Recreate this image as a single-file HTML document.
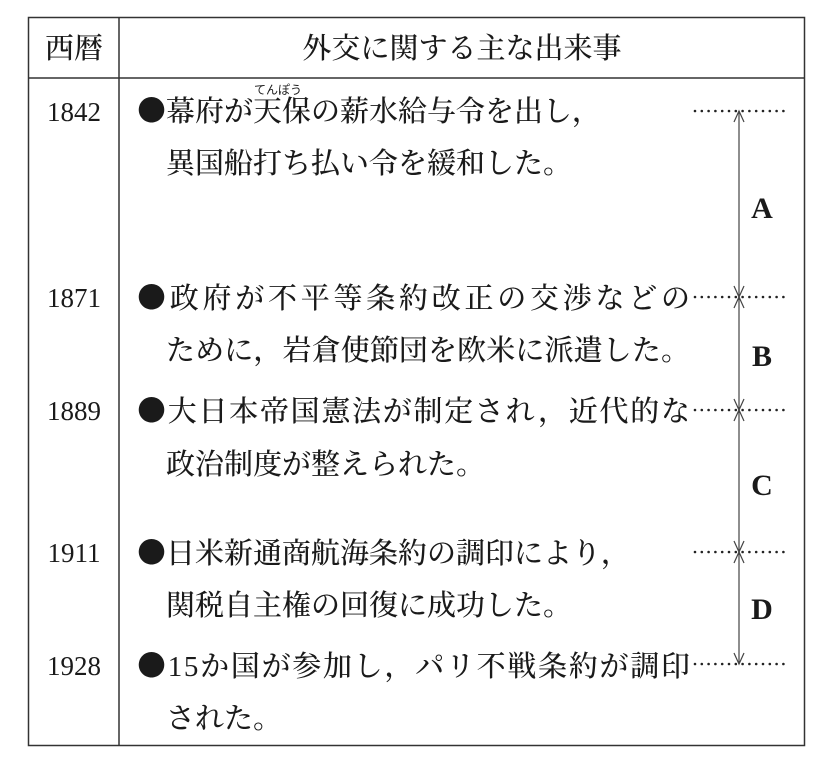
<!DOCTYPE html>
<html><head><meta charset="utf-8"><style>
html,body{margin:0;padding:0;background:#fff;width:830px;height:764px;overflow:hidden}
text{font-family:"Liberation Serif","Noto Serif CJK JP","Noto Serif CJK SC",serif;fill:#1a1a1a}
.t{font-size:29px;font-family:"Noto Serif CJK JP","Noto Serif CJK SC",serif;font-weight:500}
.y{font-size:27px}
.l{font-size:30px;font-weight:bold}
</style></head><body>
<svg width="830" height="764" xmlns="http://www.w3.org/2000/svg">
<rect x="28.5" y="17.5" width="776" height="728" fill="none" stroke="#333" stroke-width="1.5"/>
<line x1="119" y1="17" x2="119" y2="746" stroke="#333" stroke-width="1.5"/>
<line x1="28" y1="78" x2="805" y2="78" stroke="#333" stroke-width="1.5"/>
<text class="t" x="74" y="58" text-anchor="middle">西暦</text>
<text class="t" x="462" y="58" text-anchor="middle">外交に関する主な出来事</text>

<text class="y" x="74" y="121" text-anchor="middle">1842</text>
<text class="y" x="74" y="307" text-anchor="middle">1871</text>
<text class="y" x="74" y="420" text-anchor="middle">1889</text>
<text class="y" x="74" y="562" text-anchor="middle">1911</text>
<text class="y" x="74" y="675" text-anchor="middle">1928</text>

<text x="254" y="94" style="font-size:12px;font-family:'Noto Sans CJK JP',sans-serif">てんぽう</text>
<text class="t" x="137" y="121">●幕府が天保の薪水給与令を出し，</text>
<text class="t" x="166" y="173">異国船打ち払い令を緩和した。</text>
<text class="t" x="137" y="308" textLength="553" lengthAdjust="spacing">●政府が不平等条約改正の交渉などの</text>
<text class="t" x="166" y="360" textLength="524" lengthAdjust="spacing">ために，岩倉使節団を欧米に派遣した。</text>
<text class="t" x="137" y="421" textLength="553" lengthAdjust="spacing">●大日本帝国憲法が制定され，近代的な</text>
<text class="t" x="166" y="474">政治制度が整えられた。</text>
<text class="t" x="137" y="563">●日米新通商航海条約の調印により，</text>
<text class="t" x="166" y="615">関税自主権の回復に成功した。</text>
<text class="t" x="137" y="676" textLength="553" lengthAdjust="spacing">●<tspan style="font-family:'Liberation Serif',serif">15</tspan>か国が参加し，パリ不戦条約が調印</text>
<text class="t" x="166" y="728">された。</text>

<g stroke="#222" stroke-width="2.6" stroke-dasharray="0 6.8" stroke-linecap="round">
<line x1="695" y1="111" x2="786" y2="111"/>
<line x1="695" y1="297" x2="786" y2="297"/>
<line x1="695" y1="410" x2="786" y2="410"/>
<line x1="695" y1="552" x2="786" y2="552"/>
<line x1="695" y1="664" x2="786" y2="664"/>
</g>
<g stroke="#444" stroke-width="1.2" fill="none">
<line x1="739" y1="111" x2="739" y2="664"/>
<polyline points="734,122 739,111 744,122"/>
<polyline points="734,286 739,297 744,286"/>
<polyline points="734,308 739,297 744,308"/>
<polyline points="734,399 739,410 744,399"/>
<polyline points="734,421 739,410 744,421"/>
<polyline points="734,541 739,552 744,541"/>
<polyline points="734,563 739,552 744,563"/>
<polyline points="734,653 739,664 744,653"/>
</g>
<text class="l" x="762" y="218" text-anchor="middle">A</text>
<text class="l" x="762" y="366" text-anchor="middle">B</text>
<text class="l" x="762" y="495" text-anchor="middle">C</text>
<text class="l" x="762" y="619" text-anchor="middle">D</text>
</svg>
</body></html>
